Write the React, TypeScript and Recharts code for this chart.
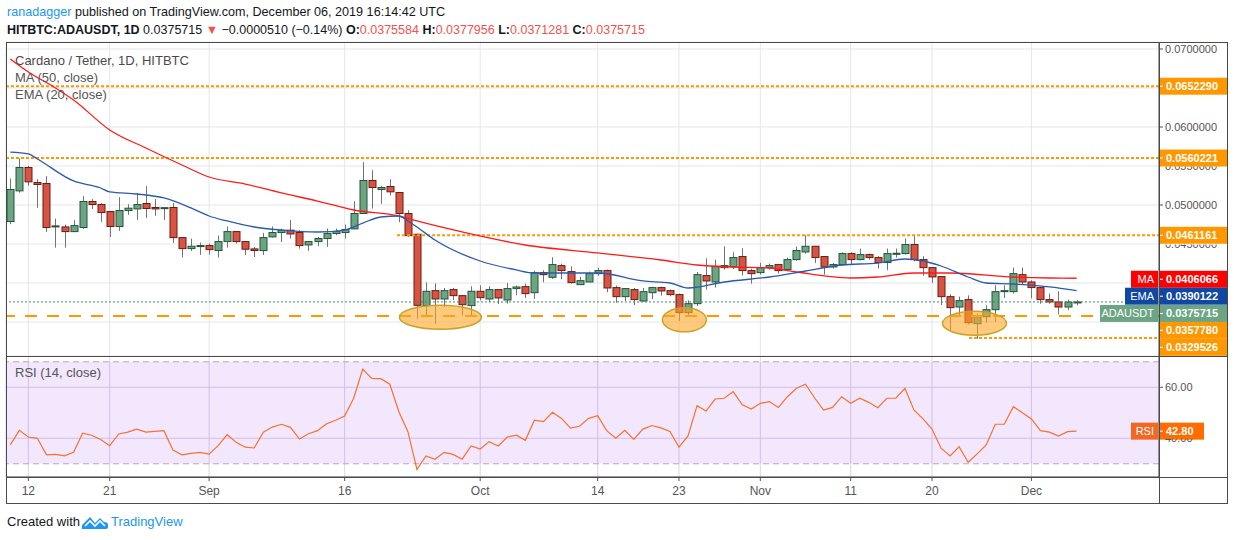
import React from "react";
import {
  Bar,
  CartesianGrid,
  ComposedChart,
  Line,
  ReferenceArea,
  ReferenceDot,
  ReferenceLine,
  XAxis,
  YAxis,
} from "recharts";

// daily candles Aug 10 .. Dec 6 2019, [open, high, low, close]
const ohlc: [number, number, number, number][] = [
  [0.04788, 0.0534, 0.04754, 0.05199],
  [0.05181, 0.05597, 0.05156, 0.05481],
  [0.05481, 0.05502, 0.05246, 0.05297],
  [0.05288, 0.05331, 0.04963, 0.05263],
  [0.05276, 0.0537, 0.04655, 0.04711],
  [0.04719, 0.04826, 0.04454, 0.04732],
  [0.04719, 0.04749, 0.04454, 0.04659],
  [0.04659, 0.04805, 0.04651, 0.04736],
  [0.04711, 0.05113, 0.04694, 0.05045],
  [0.05045, 0.05075, 0.0495, 0.05006],
  [0.05006, 0.05023, 0.04784, 0.04903],
  [0.04916, 0.0492, 0.04591, 0.04724],
  [0.04724, 0.051, 0.04668, 0.04929],
  [0.04929, 0.0501, 0.04873, 0.04959],
  [0.0495, 0.05152, 0.04809, 0.05006],
  [0.05019, 0.05241, 0.04835, 0.04955],
  [0.04968, 0.05075, 0.04861, 0.0495],
  [0.04962, 0.04968, 0.04809, 0.04966],
  [0.04968, 0.05027, 0.04514, 0.04582],
  [0.04582, 0.04585, 0.04326, 0.04441],
  [0.04441, 0.0457, 0.04411, 0.04471],
  [0.04467, 0.04518, 0.0436, 0.0448],
  [0.0448, 0.04505, 0.04364, 0.04428],
  [0.04416, 0.04608, 0.04326, 0.04531],
  [0.04531, 0.04724, 0.04454, 0.04659],
  [0.04659, 0.04668, 0.04505, 0.04531],
  [0.04531, 0.04535, 0.0436, 0.04433],
  [0.04437, 0.04463, 0.04334, 0.04416],
  [0.04416, 0.04642, 0.0436, 0.04582],
  [0.04591, 0.04724, 0.04582, 0.04647],
  [0.04647, 0.04698, 0.04527, 0.04677],
  [0.04677, 0.04809, 0.0457, 0.04629],
  [0.04647, 0.04677, 0.04441, 0.0448],
  [0.04488, 0.04535, 0.04411, 0.04531],
  [0.04531, 0.04591, 0.04471, 0.0457],
  [0.0457, 0.04698, 0.04463, 0.04634],
  [0.04634, 0.04698, 0.04612, 0.04659],
  [0.04647, 0.04749, 0.0457, 0.04685],
  [0.04694, 0.05049, 0.0469, 0.04891],
  [0.04891, 0.05549, 0.04885, 0.05314],
  [0.05314, 0.05447, 0.04955, 0.05224],
  [0.05199, 0.05246, 0.05015, 0.05224],
  [0.05237, 0.05331, 0.05122, 0.05169],
  [0.0516, 0.05165, 0.04779, 0.04891],
  [0.04891, 0.04933, 0.04591, 0.04608],
  [0.04625, 0.04633, 0.03538, 0.03714],
  [0.0371, 0.04009, 0.03564, 0.03894],
  [0.03902, 0.03996, 0.03474, 0.03795],
  [0.03795, 0.03936, 0.03692, 0.03902],
  [0.03915, 0.03936, 0.03782, 0.03838],
  [0.03838, 0.03842, 0.03585, 0.03722],
  [0.0371, 0.03958, 0.03585, 0.03894],
  [0.03894, 0.03971, 0.03778, 0.03812],
  [0.03795, 0.03958, 0.03757, 0.03915],
  [0.03915, 0.03919, 0.03731, 0.03808],
  [0.03782, 0.04001, 0.03735, 0.03928],
  [0.03928, 0.03966, 0.03842, 0.03949],
  [0.03953, 0.03992, 0.03808, 0.03864],
  [0.03876, 0.04159, 0.03795, 0.04133],
  [0.04133, 0.04163, 0.04009, 0.04107],
  [0.04073, 0.0433, 0.04052, 0.04236],
  [0.04223, 0.04249, 0.04048, 0.04159],
  [0.04146, 0.04214, 0.03992, 0.04005],
  [0.03979, 0.04078, 0.03975, 0.0403],
  [0.04013, 0.04146, 0.0401, 0.0412],
  [0.0412, 0.04197, 0.04095, 0.04159],
  [0.04159, 0.04172, 0.03881, 0.03936],
  [0.03941, 0.03966, 0.03748, 0.03825],
  [0.03825, 0.0393, 0.03769, 0.03928],
  [0.03915, 0.03936, 0.03718, 0.03787],
  [0.03769, 0.03936, 0.03765, 0.03889],
  [0.03876, 0.03953, 0.03795, 0.03941],
  [0.03941, 0.03953, 0.03838, 0.03898],
  [0.03902, 0.03915, 0.03829, 0.03851],
  [0.03851, 0.03864, 0.03513, 0.0362],
  [0.0362, 0.03778, 0.03564, 0.03735],
  [0.03735, 0.04142, 0.03705, 0.04107],
  [0.04095, 0.04317, 0.03915, 0.04026],
  [0.04013, 0.043, 0.03941, 0.0421],
  [0.04197, 0.04471, 0.04172, 0.04223],
  [0.0421, 0.04394, 0.0418, 0.04326],
  [0.04339, 0.04446, 0.04095, 0.04159],
  [0.04159, 0.04185, 0.03992, 0.0412],
  [0.04133, 0.04257, 0.04107, 0.04197],
  [0.04197, 0.04249, 0.04172, 0.04223],
  [0.04236, 0.0424, 0.0412, 0.04159],
  [0.04172, 0.04326, 0.04155, 0.043],
  [0.043, 0.04467, 0.04287, 0.04416],
  [0.04398, 0.04612, 0.04377, 0.04471],
  [0.04471, 0.04475, 0.04257, 0.04326],
  [0.04339, 0.04343, 0.04107, 0.04206],
  [0.04206, 0.04257, 0.04185, 0.04236],
  [0.04236, 0.04394, 0.04227, 0.04377],
  [0.04377, 0.04394, 0.04236, 0.043],
  [0.043, 0.04441, 0.04291, 0.04364],
  [0.04364, 0.04377, 0.043, 0.04326],
  [0.04326, 0.04343, 0.04185, 0.04262],
  [0.04262, 0.04441, 0.04163, 0.04377],
  [0.04377, 0.04441, 0.04326, 0.04381],
  [0.04377, 0.0457, 0.04364, 0.04493],
  [0.04493, 0.04612, 0.04279, 0.043],
  [0.043, 0.04343, 0.04095, 0.04197],
  [0.04197, 0.04201, 0.04001, 0.04078],
  [0.04082, 0.04086, 0.03718, 0.03825],
  [0.03825, 0.03855, 0.03384, 0.03684],
  [0.03692, 0.03825, 0.03577, 0.03774],
  [0.03787, 0.03842, 0.0347, 0.03491],
  [0.03478, 0.03607, 0.03286, 0.03568],
  [0.03568, 0.03714, 0.03487, 0.03658],
  [0.03658, 0.03971, 0.03496, 0.03889],
  [0.03894, 0.03971, 0.03808, 0.03902],
  [0.03889, 0.04197, 0.03864, 0.0412],
  [0.04107, 0.04197, 0.03979, 0.04013],
  [0.04013, 0.04035, 0.03804, 0.03941],
  [0.03941, 0.03949, 0.03735, 0.03787],
  [0.03787, 0.03864, 0.03735, 0.03757],
  [0.03757, 0.03894, 0.03598, 0.03692],
  [0.03692, 0.03787, 0.0365, 0.03756],
  [0.0375584, 0.0377956, 0.0371281, 0.0375715],
];

// MA 50 and EMA 20 at [candle index, value]
const ma50Points: [number, number][] = [
  [0, 0.06872], [2, 0.06705], [5, 0.065], [7, 0.06346], [11, 0.05962],
  [15, 0.05731], [19, 0.05513], [22, 0.05359], [26, 0.05269], [30, 0.05154],
  [34, 0.05051], [38, 0.04936], [43, 0.04859], [45, 0.04795], [50, 0.04654],
  [57, 0.04487], [65, 0.04385], [72, 0.04295], [76, 0.04231], [80, 0.04205],
  [84, 0.04192], [87, 0.04141], [93, 0.04064], [96, 0.04077], [100, 0.04128],
  [104, 0.04128], [111, 0.04077], [115, 0.04064], [118, 0.0406066],
];

const ema20Points: [number, number][] = [
  [0, 0.05679], [2, 0.05654], [3, 0.0559], [7, 0.05308], [10, 0.05218],
  [11, 0.05167], [14, 0.05141], [17, 0.0509], [20, 0.04962], [22, 0.04859],
  [24, 0.04795], [27, 0.04718], [30, 0.04679], [34, 0.04654], [37, 0.04679],
  [39, 0.04769], [41, 0.04846], [43, 0.04859], [44, 0.04795], [45, 0.04718],
  [47, 0.04551], [52, 0.04282], [56, 0.04167], [58, 0.04128], [65, 0.04128],
  [70, 0.04026], [73, 0.04], [75, 0.03936], [79, 0.04013], [84, 0.04077],
  [88, 0.04154], [92, 0.04231], [96, 0.04256], [99, 0.04308], [101, 0.04282],
  [103, 0.04218], [106, 0.04077], [108, 0.04], [111, 0.03987], [115, 0.03949],
  [118, 0.0390122],
];

const rsiValues = [
  37.4, 43.1, 40.5, 40.0, 33.5, 33.7, 33.1, 34.5, 42.0, 41.2,
  39.5, 37.1, 41.7, 42.4, 43.6, 42.4, 42.7, 43.0, 35.4, 33.5,
  34.1, 34.5, 33.8, 37.1, 41.4, 38.4, 36.5, 36.2, 42.4, 44.4,
  45.5, 44.3, 39.7, 41.8, 43.0, 45.7, 47.1, 48.7, 55.7, 67.1,
  63.5, 63.4, 61.2, 50.4, 42.6, 27.8, 33.1, 31.8, 34.5, 33.7,
  31.8, 37.0, 35.8, 38.7, 37.0, 40.5, 41.2, 39.2, 47.1, 46.5,
  50.2, 47.8, 44.0, 44.7, 47.8, 48.9, 43.0, 40.0, 43.1, 39.6,
  43.6, 45.0, 44.1, 42.7, 36.5, 40.9, 52.8, 50.7, 55.4, 55.7,
  58.3, 53.1, 51.5, 53.7, 54.4, 52.1, 56.3, 59.6, 61.2, 55.9,
  51.1, 52.1, 56.3, 53.7, 55.7, 54.1, 52.0, 55.7, 55.7, 59.6,
  51.1, 47.6, 43.6, 36.1, 33.1, 36.7, 30.6, 33.9, 37.4, 45.5,
  45.5, 52.4, 50.0, 47.6, 43.0, 42.4, 40.9, 42.6, 42.8,
];

const dateTickIdx = [2, 11, 22, 37, 52, 65, 74, 83, 93, 102, 113];
const dateTickLabels = ["12", "21", "Sep", "16", "Oct", "14", "23", "Nov", "11", "20", "Dec"];

const priceTicks = [0.035, 0.04, 0.045, 0.05, 0.055, 0.06, 0.065, 0.07];
const priceTicksCovered = [0.035, 0.04, 0.065]; // fully under the price tags
const priceTicksHalf = [0.045, 0.055]; // only the lower half shows below a tag
const rsiTicks = [40, 60];
const rsiTicksHalf = [40];

// horizontal levels drawn on the chart
const resistanceTop = 0.065229;
const resistanceMid = 0.0560221;
const resistanceLow = 0.0461161;
const supportMain = 0.035778;
const supportLow = 0.0329526;
const lastPrice = 0.0375715;
const maLast = 0.0406066;
const emaLast = 0.0390122;
const rsiLast = 42.8;

// highlighted bottoms: [candle index, price]
const bottomZones: [number, number][] = [
  [47.6, 0.0356],
  [74.6, 0.03528],
  [106.7, 0.03483],
];

const xDomain: [number, number] = [-0.476, 127.12];
const priceDomain: [number, number] = [0.030641, 0.070897];
const rsiDomain: [number, number] = [24.82, 72.27];

const maMap = new Map(ma50Points.map(([i, v]) => [i, v]));
const emaMap = new Map(ema20Points.map(([i, v]) => [i, v]));

const rows = ohlc.map((c, i) => ({
  i,
  open: c[0],
  high: c[1],
  low: c[2],
  close: c[3],
  ma: maMap.has(i) ? maMap.get(i) : null,
  ema: emaMap.has(i) ? emaMap.get(i) : null,
  rsi: rsiValues[i],
}));

const FONT = '"Liberation Sans", Arial, sans-serif';
const ORANGE = "#ff9800";
const FRAME = "#4a4a4a";

function Candle(props: any) {
  const { x, y, width, height, payload } = props;
  if (x == null || y == null || !payload) return null;
  const { open, high, low, close } = payload;
  const top = Math.min(y, y + height);
  const h = Math.abs(height);
  const cx = Math.round(x + width / 2) + 0.5;
  const py = (v: number) => (high === low ? top : top + ((high - v) / (high - low)) * h);
  const up = close >= open;
  const bTop = py(Math.max(open, close));
  const bBot = py(Math.min(open, close));
  return (
    <g>
      <line x1={cx} x2={cx} y1={top} y2={top + h} stroke="#737375" strokeWidth={1} />
      <rect
        x={cx - 3.5}
        y={bTop}
        width={7}
        height={Math.max(1, bBot - bTop)}
        fill={up ? "#6ba583" : "#d75442"}
        stroke={up ? "#225437" : "#6b1a12"}
        strokeWidth={1}
      />
    </g>
  );
}

function Zone(props: any) {
  const { cx, cy, rx } = props;
  if (cx == null || cy == null) return null;
  return (
    <ellipse cx={cx} cy={cy} rx={rx} ry={12} fill="#ffa726" fillOpacity={0.6} stroke="#c9a227" strokeWidth={1.5} />
  );
}

// axis tick: hidden under a tag, half shown below a tag, or plain
const makeTick = (digits: number, covered: number[], half: number[], id: string) => (p: any) => {
  const v = p.payload?.value;
  if (v == null || covered.includes(v)) return null;
  const axisX = p.x - 6;
  const label = (
    <text x={p.x} y={p.y} dy="0.36em" fontSize={11} fill="#555" textAnchor="start">
      {v.toFixed(digits)}
    </text>
  );
  if (half.includes(v)) {
    const cid = `${id}-${String(v).replace(".", "_")}`;
    return (
      <g>
        <clipPath id={cid}>
          <rect x={p.x - 2} y={p.y + 0.5} width={70} height={12} />
        </clipPath>
        <g clipPath={`url(#${cid})`}>{label}</g>
      </g>
    );
  }
  return (
    <g>
      <line x1={axisX} x2={axisX + 4} y1={p.y} y2={p.y} stroke="#555" />
      {label}
    </g>
  );
};

const rightTag = (text: string, bg: string, dy = 0, w = 68) => (p: any) => {
  const vb = p.viewBox ?? p;
  const x0 = vb.x + vb.width;
  const cy = vb.y + dy;
  return (
    <g>
      <rect x={x0} y={cy - 8.5} width={w} height={17} fill={bg} />
      <line x1={x0} x2={x0 + 4} y1={cy} y2={cy} stroke="#fff" />
      <text x={x0 + 7} y={cy} dy="0.36em" fill="#fff" fontSize={11} fontWeight={700}>
        {text}
      </text>
    </g>
  );
};

const leftTag = (text: string, bg: string, dy = 0, w = 30) => (p: any) => {
  const vb = p.viewBox ?? p;
  const x1 = vb.x + vb.width - 1;
  const cy = vb.y + dy;
  return (
    <g>
      <rect x={x1 - w} y={cy - 8.5} width={w} height={17} fill={bg} />
      <text x={x1 - 4} y={cy} dy="0.36em" fill="#fff" fontSize={11} textAnchor="end">
        {text}
      </text>
    </g>
  );
};

function Logo() {
  return (
    <svg width={28} height={16} style={{ position: "absolute", left: 81, top: 514 }}>
      <path
        d="M1 15 Q0 11 3 9 L9 3 L14 9 L19 4 L23 8 Q28 8 27 13 Q27 15 24 15 Z"
        fill="#2196f3"
      />
      <path d="M4 12 L9 7 L14 12 L19 7 L24 12" fill="none" stroke="#fff" strokeWidth={1.6} />
    </svg>
  );
}

export default function App() {
  const red = { color: "#ef5350" };
  const bold = { fontWeight: 700 };
  return (
    <div
      style={{
        position: "absolute",
        left: 0,
        top: 0,
        width: 1234,
        height: 540,
        background: "#fff",
        overflow: "hidden",
        fontFamily: FONT,
        color: "#131722",
      }}
    >
      <div style={{ position: "absolute", left: 7, top: 5, fontSize: 12.6, whiteSpace: "nowrap" }}>
        <span style={{ color: "#2196f3" }}>ranadagger</span> published on TradingView.com, December 06, 2019 16:14:42 UTC
      </div>
      <div style={{ position: "absolute", left: 7, top: 23, fontSize: 12.5, whiteSpace: "nowrap" }}>
        <span style={bold}>HITBTC:ADAUSDT, 1D</span> 0.0375715 <span style={red}>▼</span> −0.0000510 (−0.14%){" "}
        <span style={bold}>O:</span>
        <span style={red}>0.0375584</span> <span style={bold}>H:</span>
        <span style={red}>0.0377956</span> <span style={bold}>L:</span>
        <span style={red}>0.0371281</span> <span style={bold}>C:</span>
        <span style={red}>0.0375715</span>
      </div>

      <div style={{ position: "absolute", left: 0, top: 0 }}>
        <ComposedChart width={1234} height={356} data={rows} margin={{ top: 42, right: 7, bottom: 0, left: 6 }}>
          <CartesianGrid stroke="#e6e6e6" />
          <XAxis type="number" dataKey="i" domain={xDomain} allowDataOverflow ticks={dateTickIdx} hide />
          <YAxis
            orientation="right"
            domain={priceDomain}
            allowDataOverflow
            ticks={priceTicks}
            width={68}
            tick={makeTick(7, priceTicksCovered, priceTicksHalf, "pt")}
            tickSize={4}
            tickLine={false}
            axisLine={{ stroke: FRAME }}
          />
          {bottomZones.map(([i, p], k) => (
            <ReferenceDot
              key={k}
              x={i}
              y={p}
              r={1}
              shape={(s: any) => <Zone {...s} rx={k === 1 ? 22 : k === 0 ? 41 : 32} />}
            />
          ))}
          <ReferenceLine y={resistanceTop} stroke={ORANGE} strokeWidth={2} strokeDasharray="3 2" />
          <ReferenceLine y={resistanceMid} stroke={ORANGE} strokeWidth={2} strokeDasharray="3 2" />
          <ReferenceLine
            segment={[
              { x: 42.8, y: resistanceLow },
              { x: xDomain[1], y: resistanceLow },
            ]}
            stroke={ORANGE}
            strokeWidth={2}
            strokeDasharray="3 2"
          />
          <ReferenceLine y={supportMain} stroke={ORANGE} strokeWidth={2} strokeDasharray="12 10" />
          <ReferenceLine
            segment={[
              { x: 106.1, y: supportLow },
              { x: xDomain[1], y: supportLow },
            ]}
            stroke={ORANGE}
            strokeWidth={2}
            strokeDasharray="3 2"
          />
          <ReferenceLine y={lastPrice} stroke="#3f8f5e" strokeWidth={1} strokeDasharray="2 2" />
          <Line
            dataKey="ma"
            type="monotone"
            stroke="#ff1a1a"
            strokeWidth={1.3}
            dot={false}
            connectNulls
            isAnimationActive={false}
          />
          <Line
            dataKey="ema"
            type="monotone"
            stroke="#2a5ab0"
            strokeWidth={1.3}
            dot={false}
            connectNulls
            isAnimationActive={false}
          />
          <Bar
            dataKey={(d: any) => [d.low, d.high]}
            barSize={7}
            shape={(p: any) => <Candle {...p} />}
            isAnimationActive={false}
          />
          <ReferenceLine y={resistanceTop} stroke="none" label={rightTag("0.0652290", ORANGE)} />
          <ReferenceLine y={resistanceMid} stroke="none" label={rightTag("0.0560221", ORANGE)} />
          <ReferenceLine y={resistanceLow} stroke="none" label={rightTag("0.0461161", ORANGE)} />
          <ReferenceLine y={supportMain} stroke="none" label={rightTag("0.0357780", ORANGE, 14.4)} />
          <ReferenceLine y={supportLow} stroke="none" label={rightTag("0.0329526", ORANGE, 9.4)} />
          <ReferenceLine y={maLast} stroke="none" label={rightTag("0.0406066", "#ff0000", 1)} />
          <ReferenceLine y={maLast} stroke="none" label={leftTag("MA", "#ff0000", 1, 27)} />
          <ReferenceLine y={emaLast} stroke="none" label={rightTag("0.0390122", "#0f47a3", 5.5)} />
          <ReferenceLine y={emaLast} stroke="none" label={leftTag("EMA", "#0f47a3", 5.5, 33)} />
          <ReferenceLine y={lastPrice} stroke="none" label={rightTag("0.0375715", "#6ba583", 11.5)} />
          <ReferenceLine y={lastPrice} stroke="none" label={leftTag("ADAUSDT", "#6ba583", 11.5, 58)} />
        </ComposedChart>
      </div>

      <div style={{ position: "absolute", left: 0, top: 356 }}>
        <ComposedChart width={1234} height={147} data={rows} margin={{ top: 0, right: 7, bottom: 0, left: 6 }}>
          <ReferenceArea y1={30} y2={70} fill="#8e24f0" fillOpacity={0.11} stroke="none" />
          <CartesianGrid stroke="#ddd2e8" />
          <XAxis
            type="number"
            dataKey="i"
            domain={xDomain}
            allowDataOverflow
            ticks={dateTickIdx}
            tickFormatter={(v: number) => dateTickLabels[dateTickIdx.indexOf(v)] ?? ""}
            height={26}
            tick={{ fontSize: 12, fill: "#555" }}
            tickSize={4}
            tickMargin={5}
            tickLine={{ stroke: "#555" }}
            axisLine={{ stroke: FRAME }}
          />
          <YAxis
            orientation="right"
            domain={rsiDomain}
            allowDataOverflow
            ticks={rsiTicks}
            width={68}
            tick={makeTick(2, [], rsiTicksHalf, "rt")}
            tickSize={4}
            tickLine={false}
            axisLine={{ stroke: FRAME }}
          />
          <ReferenceLine y={70} stroke="#b4a6bf" strokeDasharray="6 4" />
          <ReferenceLine y={30} stroke="#b4a6bf" strokeDasharray="6 4" />
          <Line
            dataKey="rsi"
            type="linear"
            stroke="#f7712f"
            strokeWidth={1.2}
            dot={false}
            isAnimationActive={false}
          />
          <ReferenceLine y={rsiLast} stroke="none" label={rightTag("42.80", "#ff6d00", 0, 45)} />
          <ReferenceLine y={rsiLast} stroke="none" label={leftTag("RSI", "#f26722", 0, 27)} />
        </ComposedChart>
      </div>

      <div style={{ position: "absolute", left: 15, top: 53, fontSize: 13, color: "#4a4a4a" }}>
        Cardano / Tether, 1D, HITBTC
      </div>
      <div style={{ position: "absolute", left: 15, top: 70, fontSize: 13, color: "#555" }}>MA (50, close)</div>
      <div style={{ position: "absolute", left: 15, top: 87, fontSize: 13, color: "#555" }}>EMA (20, close)</div>
      <div style={{ position: "absolute", left: 15, top: 365, fontSize: 13, color: "#555" }}>RSI (14, close)</div>

      <div
        style={{
          position: "absolute",
          left: 6,
          top: 42,
          width: 1222,
          height: 462,
          border: `1px solid ${FRAME}`,
          boxSizing: "border-box",
          pointerEvents: "none",
        }}
      />
      <div style={{ position: "absolute", left: 6, top: 355.5, width: 1221, height: 1, background: FRAME }} />
      <div style={{ position: "absolute", left: 6, top: 476.5, width: 1221, height: 1, background: FRAME }} />
      <div style={{ position: "absolute", left: 1158.5, top: 42, width: 1, height: 461, background: FRAME }} />

      <div style={{ position: "absolute", left: 7, top: 514, fontSize: 13, color: "#131722" }}>Created with</div>
      <Logo />
      <div style={{ position: "absolute", left: 111, top: 514, fontSize: 13, color: "#2196f3" }}>TradingView</div>
    </div>
  );
}
